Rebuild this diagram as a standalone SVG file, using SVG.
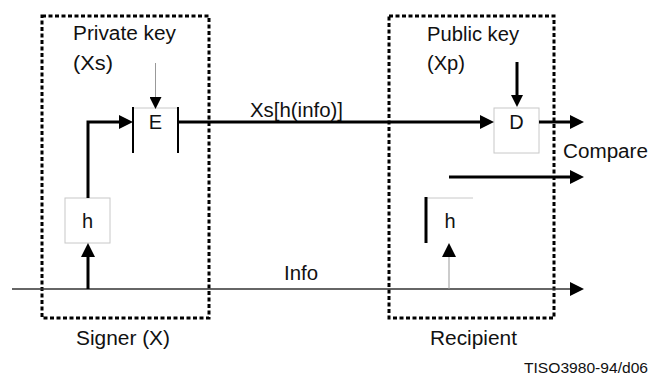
<svg xmlns="http://www.w3.org/2000/svg" width="649" height="377" viewBox="0 0 649 377">
  <style>
    text { font-family: "Liberation Sans", Arial, sans-serif; font-size: 20px; fill: #111; }
    .frame { fill: none; stroke: #000; stroke-width: 3; stroke-dasharray: 4 2.5; }
    .box { fill: #fff; stroke: #c8c8c8; stroke-width: 1; }
    .bar { stroke: #000; stroke-width: 2; fill: none; }
    .thick { stroke: #000; stroke-width: 3; fill: none; }
    .thin { stroke: #999; stroke-width: 1; fill: none; }
    .info { stroke: #333; stroke-width: 1.5; fill: none; }
    .mid { text-anchor: middle; }
  </style>
  <defs>
    <marker id="ah" viewBox="0 0 14 14" refX="0" refY="7" markerWidth="14" markerHeight="14" markerUnits="userSpaceOnUse" orient="auto">
      <path d="M0,0 L14,7 L0,14 z" fill="#000"/>
    </marker>
    <marker id="ahs" viewBox="0 0 12 12" refX="0" refY="6" markerWidth="12" markerHeight="12" markerUnits="userSpaceOnUse" orient="auto">
      <path d="M0,0 L12,6 L0,12 z" fill="#000"/>
    </marker>
  </defs>

  <!-- party frames -->
  <g id="signer">
    <rect class="frame" x="42" y="16" width="167" height="302"/>
    <text x="73" y="40" textLength="103" lengthAdjust="spacingAndGlyphs">Private key</text>
    <text x="73" y="70" textLength="40" lengthAdjust="spacingAndGlyphs">(Xs)</text>
    <text x="76" y="345" textLength="94" lengthAdjust="spacingAndGlyphs">Signer (X)</text>
  </g>
  <g id="recipient">
    <rect class="frame" x="389" y="16" width="165" height="302"/>
    <text x="427" y="41" textLength="92" lengthAdjust="spacingAndGlyphs">Public key</text>
    <text x="427" y="70" textLength="38" lengthAdjust="spacingAndGlyphs">(Xp)</text>
    <text x="430" y="345" textLength="87" lengthAdjust="spacingAndGlyphs">Recipient</text>
  </g>

  <!-- function blocks -->
  <g id="hash-signer">
    <rect class="box" x="65" y="198" width="45" height="45"/>
    <text class="mid" x="87.5" y="228">h</text>
  </g>
  <g id="encrypt">
    <line x1="133" y1="108" x2="178" y2="108" stroke="#c8c8c8" stroke-width="1"/>
    <line class="bar" x1="133" y1="107" x2="133" y2="153"/>
    <line class="bar" x1="178" y1="107" x2="178" y2="153"/>
    <text class="mid" x="155.5" y="129">E</text>
  </g>
  <g id="decrypt">
    <rect class="box" x="494" y="108" width="45" height="45"/>
    <text class="mid" x="516.5" y="129">D</text>
  </g>
  <g id="hash-recipient">
    <line x1="426" y1="198" x2="473" y2="198" stroke="#c8c8c8" stroke-width="1"/>
    <line class="thick" x1="426" y1="197" x2="426" y2="243"/>
    <text class="mid" x="450" y="228">h</text>
  </g>

  <!-- connectors -->
  <g id="connectors">
    <line class="thin" x1="155.5" y1="63" x2="155.5" y2="97" marker-end="url(#ahs)"/>
    <path class="thick" d="M88,198 V122 H119" marker-end="url(#ah)"/>
    <line class="thick" x1="178" y1="122" x2="480" y2="122" marker-end="url(#ah)"/>
    <line class="thick" x1="517" y1="62" x2="517" y2="95" marker-end="url(#ahs)"/>
    <line class="thick" x1="539" y1="122" x2="570" y2="122" marker-end="url(#ah)"/>
    <line class="thick" x1="449" y1="177" x2="570" y2="177" marker-end="url(#ah)"/>
    <line class="info" x1="12" y1="289" x2="570" y2="289" marker-end="url(#ah)"/>
    <line class="thick" x1="88" y1="289" x2="88" y2="257" marker-end="url(#ah)"/>
    <line class="thin" x1="449" y1="289" x2="449" y2="257" marker-end="url(#ah)"/>
    <text x="250" y="117" textLength="93" lengthAdjust="spacingAndGlyphs">Xs[h(info)]</text>
    <text x="563" y="158" textLength="85" lengthAdjust="spacingAndGlyphs">Compare</text>
    <text x="284" y="280" textLength="34" lengthAdjust="spacingAndGlyphs">Info</text>
  </g>

  <text x="648" y="373" text-anchor="end" style="font-size:15px" textLength="124" lengthAdjust="spacingAndGlyphs">TISO3980-94/d06</text>
</svg>
